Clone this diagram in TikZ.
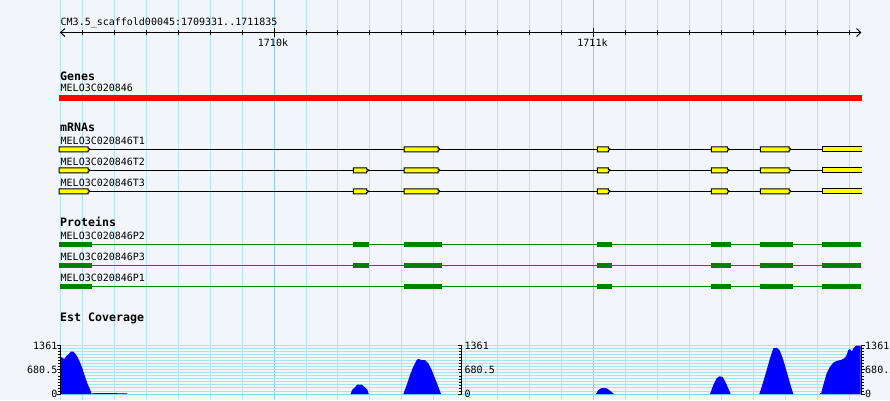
\documentclass[tikz,border=0pt]{standalone}
\usepackage{fontspec}
\newfontfamily\monof{DejaVu Sans Mono}
\definecolor{bgc}{HTML}{F2F5FA}
\definecolor{gridc}{HTML}{B2E6EE}
\definecolor{gridmaj}{HTML}{8CCFE6}
\definecolor{covgrid}{HTML}{A6E4EE}
\definecolor{covbase}{HTML}{8ED2EA}
\definecolor{exony}{HTML}{FFFF00}
\definecolor{protg}{HTML}{008000}
\definecolor{covb}{HTML}{0000FF}
\tikzset{
  lbl/.style={inner sep=0pt, anchor=base west, font=\monof\fontsize{10}{12}\selectfont},
  hdr/.style={inner sep=0pt, anchor=base west, font=\monof\bfseries\fontsize{11.6}{13}\selectfont},
  axlbl/.style={inner sep=0pt, font=\monof\fontsize{10}{12}\selectfont},
  gridline/.style={draw=gridc, line width=1pt},
  gridmajor/.style={draw=gridmaj, line width=1pt},
  covline/.style={draw=covgrid, line width=1pt},
  intron/.style={draw=black, line width=1pt},
  exonst/.style={draw=black, fill=exony, line width=1pt},
  pline/.style={draw=protg, line width=1pt},
  pbox/.style={fill=protg},
  cov/.style={fill=covb},
  axisline/.style={draw=black, line width=1pt},
}
\newcommand\mexon[3]{\draw[exonst] (#1,#3-2.5) -- (#2,#3-2.5) -- (#2,#3-1.2) -- (#2+2.2,#3) -- (#2,#3+1.2) -- (#2,#3+2.5) -- (#1,#3+2.5) -- cycle;}
\newcommand\mexonend[3]{\draw[exonst] (#2,#3-2.5) -- (#1,#3-2.5) -- (#1,#3+2.5) -- (#2,#3+2.5);\fill[exony] (#1+0.5,#3-2) rectangle (#2,#3+2);}
\newcommand\pexon[3]{\fill[protg] (#1,#3-2.7) rectangle (#2,#3+2.7);}
\begin{document}
\begin{tikzpicture}[x=1pt,y=-1pt]
\useasboundingbox (0,0) rectangle (890,400);
\fill[bgc] (0,0) rectangle (890,400);
% vertical grid
\draw[gridline] (60,0) -- (60,400);
\foreach \k in {0,...,24} \draw[gridline] ({82.3+31.96*\k},0) -- ({82.3+31.96*\k},400);
\foreach \k in {6,16} \draw[gridmajor] ({82.3+31.96*\k},0) -- ({82.3+31.96*\k},400);
% coverage horizontal grid
\foreach \k in {0,...,15} \draw[covline] (61,{345.7+3.02*\k}) -- (861,{345.7+3.02*\k});
\draw[draw=covbase, line width=1.5pt] (60,394.3) -- (861,394.3);

% top ruler
\node[lbl] (title) at (60.5,25) {CM3.5\_scaffold00045:1709331..1711835};
\coordinate (rl) at (60.5,32.5);
\coordinate (rr) at (860.7,32.5);
\draw[axisline] (rl) -- (rr);
\draw[axisline] (65,28.5) -- (rl) -- (65,36.5);
\draw[axisline] (856.5,28.5) -- (rr) -- (856.5,36.5);
\foreach \k in {0,...,24} \draw[axisline] ({82.3+31.96*\k},30) -- ({82.3+31.96*\k},35);
\foreach \k in {6,16} \draw[axisline] ({82.3+31.96*\k},27.5) -- ({82.3+31.96*\k},37);
\node[lbl, anchor=base] (k1710) at (273,46) {1710k};
\node[lbl, anchor=base] (k1711) at (592.5,46) {1711k};

% genes
\node[hdr] (genes) at (60,80) {Genes};
\node[lbl] (gname) at (60.5,91.7) {MELO3C020846};
\fill[red] (59,95.3) rectangle (862,100.5);

% mRNAs
\node[hdr] (mrnas) at (60,131.7) {mRNAs};
\node[lbl] (t1) at (60.5,144) {MELO3C020846T1};
\node[lbl] (t2) at (60.5,165) {MELO3C020846T2};
\node[lbl] (t3) at (60.5,186) {MELO3C020846T3};
\foreach \y in {149.3,170.3,191.3} \draw[intron] (59,\y) -- (862,\y);
\foreach \y in {149.3,170.3,191.3} {
  \mexon{59}{88}{\y}
  \mexon{404}{438}{\y}
  \mexon{597.3}{608.3}{\y}
  \mexon{711.3}{727.3}{\y}
  \mexon{760.3}{789}{\y}
  \mexonend{822.3}{862}{\y}
}
\foreach \y in {170.3,191.3} {\mexon{353.3}{366.7}{\y}}

% proteins
\node[hdr] (prot) at (60,226.7) {Proteins};
\node[lbl] (p2) at (60.5,239.3) {MELO3C020846P2};
\node[lbl] (p3) at (60.5,260.3) {MELO3C020846P3};
\node[lbl] (p1) at (60.5,281.3) {MELO3C020846P1};
\foreach \y in {244.7,265.7,286.7} {
  \draw[pline] (60,\y) -- (861,\y);
  \pexon{404}{442}{\y}
  \pexon{597}{612}{\y}
  \pexon{711}{731}{\y}
  \pexon{760}{793}{\y}
  \pexon{822}{861}{\y}
}
\foreach \y in {244.7,265.7} {\pexon{59}{92}{\y}\pexon{353}{369}{\y}}
\pexon{60}{92}{286.7}

% coverage
\node[hdr] (estc) at (60,321.7) {Est Coverage};
\fill[cov] (60,394) -- (60,355.7) -- (61.7,357.7) -- (64.3,359) -- (66.7,355.7) -- (69,354) -- (70.7,351.7) -- (73.3,351.7) -- (75,353.3) -- (77.3,356.7) -- (80,362.3) -- (82.3,368.3) -- (85,376.7) -- (87.7,384.3) -- (90,389.3) -- (91.7,394) -- cycle;
\draw[draw=covb, line width=1pt] (91.7,393.3) -- (126.7,393.3);
\draw[draw=red, line width=1pt] (91.7,393.3) -- (94,393.3);
\draw[draw=red, line width=1pt] (116.7,393.3) -- (126.7,393.3);
\fill[cov] (350.7,394) -- (352,390) -- (355,387.3) -- (357,384.7) -- (361.7,384.7) -- (365,387.3) -- (367.5,390) -- (368.7,394) -- cycle;
\fill[cov] (403.3,394) -- (406.7,385) -- (410,375) -- (413.3,366.7) -- (416.7,360) -- (418.3,359) -- (421.7,360) -- (425,360) -- (428.3,363.3) -- (431.7,370) -- (435,378.3) -- (438.3,386.7) -- (441,394) -- cycle;
\fill[cov] (596,394) -- (598.3,390) -- (601.7,388) -- (606.7,388.3) -- (610,390.7) -- (614,394) -- cycle;
\fill[cov] (710,394) -- (713.3,385) -- (716.7,378.3) -- (719.3,376.3) -- (722.7,377) -- (726,383.3) -- (730.7,394) -- cycle;
\fill[cov] (759.3,394) -- (763.3,381.7) -- (766.7,370) -- (770,358.3) -- (773.3,348.3) -- (776.7,347.7) -- (780,351) -- (783.3,360) -- (786.7,371.7) -- (790,383.3) -- (793.3,394) -- cycle;
\fill[cov] (821,394) -- (823.3,385) -- (826.7,373.3) -- (830,366.7) -- (833.3,362.7) -- (836.7,361) -- (841.7,359.7) -- (845,357.7) -- (846.7,355) -- (848.3,350) -- (850,349) -- (851.7,351.7) -- (853.3,348.3) -- (856,345.7) -- (860.7,345.7) -- (860.7,394) -- cycle;
\draw[draw=red, line width=1pt] (820,393.3) -- (821.5,393.3);

% coverage axes
\draw[axisline] (60.5,345.2) -- (60.5,394.3);
\draw[axisline] (461.5,345.2) -- (461.5,394.3);
\draw[axisline] (861,345.2) -- (861,394.3);
\foreach \k in {0,...,16} {
  \draw[black, line width=0.8pt] (58,{345.7+3.02*\k}) -- (60.5,{345.7+3.02*\k});
  \draw[black, line width=0.8pt] (459,{345.7+3.02*\k}) -- (461.5,{345.7+3.02*\k});
  \draw[black, line width=0.8pt] (861,{345.7+3.02*\k}) -- (863.5,{345.7+3.02*\k});
}
\foreach \k in {0,8,16} {
  \draw[black, line width=0.8pt] (57,{345.7+3.02*\k}) -- (60.5,{345.7+3.02*\k});
  \draw[black, line width=0.8pt] (458,{345.7+3.02*\k}) -- (461.5,{345.7+3.02*\k});
  \draw[black, line width=0.8pt] (861,{345.7+3.02*\k}) -- (864.5,{345.7+3.02*\k});
}
\node[axlbl, anchor=east] (la) at (57.5,345.7) {1361};
\node[axlbl, anchor=east] (lb) at (57.5,369.9) {680.5};
\node[axlbl, anchor=east] (lc) at (57.5,394) {0};
\node[axlbl, anchor=west] (ma) at (464.5,345.7) {1361};
\node[axlbl, anchor=west] (mb) at (464.5,369.9) {680.5};
\node[axlbl, anchor=west] (mc) at (464.5,394) {0};
\node[axlbl, anchor=west] (ra) at (865,345.7) {1361};
\node[axlbl, anchor=west] (rb) at (865,369.9) {680.5};
\node[axlbl, anchor=west] (rc) at (865,394) {0};
\end{tikzpicture}
\end{document}
